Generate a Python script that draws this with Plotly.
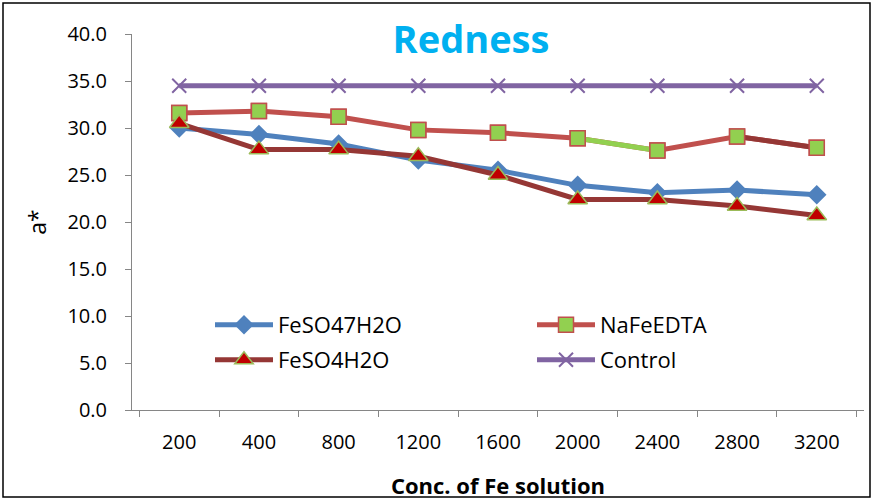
import plotly.graph_objects as go

categories = ["200", "400", "800", "1200", "1600", "2000", "2400", "2800", "3200"]
feso47h2o = [30.0, 29.3, 28.3, 26.6, 25.5, 23.9, 23.1, 23.4, 22.9]
nafeedta = [31.6, 31.8, 31.2, 29.8, 29.5, 28.9, 27.6, 29.1, 27.9]
feso4h2o = [30.5, 27.7, 27.7, 27.0, 25.0, 22.4, 22.4, 21.7, 20.7]
control = [34.5, 34.5, 34.5, 34.5, 34.5, 34.5, 34.5, 34.5, 34.5]

FONT = "Open Sans"
L, R, T, B = 132, 9, 34, 90
W, H = 873, 500
pw, ph = W - L - R, H - T - B


def px(x):
    return (x - L) / pw


def py(y):
    return (H - B - y) / ph


fig = go.Figure()

fig.add_trace(go.Scatter(x=categories, y=feso47h2o, name="FeSO47H2O", mode="lines+markers",
                         legend="legend",
                         line=dict(color="#4F81BD", width=5),
                         marker=dict(symbol="diamond", size=15, color="#4F81BD")))
fig.add_trace(go.Scatter(x=categories, y=nafeedta, name="NaFeEDTA", mode="lines+markers",
                         legend="legend2",
                         line=dict(color="#C0504D", width=5),
                         marker=dict(symbol="square", size=15, color="#92D050",
                                     line=dict(color="#C0504D", width=1.5))))
# individually coloured segments of the NaFeEDTA line
fig.add_trace(go.Scatter(x=categories[5:7], y=nafeedta[5:7], mode="lines", showlegend=False,
                         hoverinfo="skip", line=dict(color="#92D050", width=5)))
fig.add_trace(go.Scatter(x=categories[7:9], y=nafeedta[7:9], mode="lines", showlegend=False,
                         hoverinfo="skip", line=dict(color="#953735", width=5)))
fig.add_trace(go.Scatter(x=categories, y=nafeedta, mode="markers", showlegend=False,
                         marker=dict(symbol="square", size=15, color="#92D050",
                                     line=dict(color="#C0504D", width=1.5))))
fig.add_trace(go.Scatter(x=categories, y=feso4h2o, name="FeSO4H2O", mode="lines+markers",
                         legend="legend3",
                         line=dict(color="#953735", width=5),
                         marker=dict(symbol="triangle-up", size=17, color="#C00000",
                                     line=dict(color="#9BBB59", width=1.5))))
fig.add_trace(go.Scatter(x=categories, y=control, name="Control", mode="lines+markers",
                         legend="legend4",
                         line=dict(color="#8064A2", width=5),
                         marker=dict(symbol="x-thin", size=14, color="#8064A2",
                                     line=dict(color="#8064A2", width=2))))


def leg(xtext, yc):
    return dict(x=px(xtext - 68), xanchor="left", y=py(yc), yanchor="middle",
                bgcolor="rgba(0,0,0,0)", font=dict(family=FONT, size=22, color="black"),
                itemwidth=58)


fig.update_layout(
    width=W, height=H,
    margin=dict(l=L, r=R, t=T, b=B),
    paper_bgcolor="white", plot_bgcolor="white",
    font=dict(family=FONT, color="black", size=20),
    title=dict(text="<b>Redness</b>", x=471 / W, xref="container",
               xanchor="center", y=1 - 40 / H, yanchor="middle",
               font=dict(family=FONT, size=38, color="#00B0F0")),
    showlegend=True,
    legend=leg(278, 325),
    legend2=leg(600, 325),
    legend3=leg(278, 360),
    legend4=leg(600, 360),
    xaxis=dict(type="category", showline=True, linecolor="#868686", linewidth=1, automargin=False,
               ticks="outside", tickson="boundaries", ticklen=6, tickcolor="#868686",
               showgrid=False, tickfont=dict(size=20, family=FONT), ticklabelstandoff=14,
               title=dict(text="<b>Conc. of Fe solution</b>", font=dict(size=22, family=FONT), standoff=24)),
    yaxis=dict(range=[0, 40], dtick=5, tickformat=".1f", showline=True, linecolor="#868686",
               linewidth=1, ticks="outside", ticklen=6, tickcolor="#868686", showgrid=False,
               automargin=False,
               zeroline=False, tickfont=dict(size=20, family=FONT), ticklabelstandoff=14,
               title=dict(text="a*", font=dict(size=23, family=FONT), standoff=14)),
    shapes=[dict(type="rect", xref="paper", yref="paper",
                 x0=px(3), x1=px(870), y0=py(497), y1=py(3),
                 line=dict(color="black", width=1.5), fillcolor="rgba(0,0,0,0)", layer="below")],
)

fig.write_html("out.html")
